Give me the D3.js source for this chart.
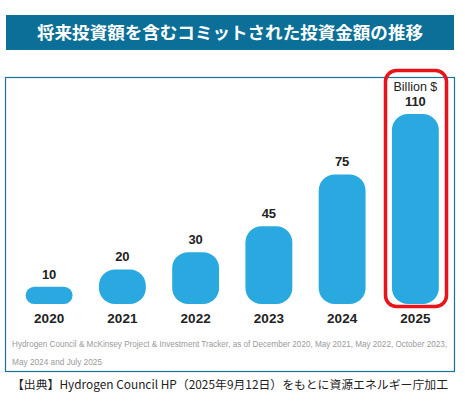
<!DOCTYPE html>
<html>
<head>
<meta charset="utf-8">
<script src="https://cdn.jsdelivr.net/npm/d3@7"></script>
<style>
  body { margin: 0; background: #fff; }
  svg { display: block; }
</style>
</head>
<body>
<div id="chart"></div>
<script>
// data
const years = ["2020", "2021", "2022", "2023", "2024", "2025"];
const values = [10, 20, 30, 45, 75, 110];
const title = "将来投資額を含むコミットされた投資金額の推移";
const unitLabel = "Billion $";
const noteLines = [
    "Hydrogen Council & McKinsey Project & Investment Tracker, as of December 2020, May 2021, May 2022, October 2023,",
    "May 2024 and July 2025"
];
const sourceText = "【出典】Hydrogen Council HP（2025年9月12日）をもとに資源エネルギー庁加工";

const width = 465, height = 402;
const jpFont = "'Noto Sans CJK JP', 'Noto Sans', sans-serif";
const latinFont = "'Liberation Sans', 'DejaVu Sans', sans-serif";

const svg = d3.select("#chart").append("svg")
    .attr("width", width)
    .attr("height", height);

// header band
svg.append("rect")
    .attr("x", 6).attr("y", 15)
    .attr("width", 448).attr("height", 35)
    .attr("fill", "#0b6f97");

svg.append("text")
    .attr("x", 230).attr("y", 39)
    .attr("text-anchor", "middle")
    .attr("fill", "#fff")
    .attr("font-family", jpFont)
    .attr("font-weight", "bold")
    .attr("font-size", 17)
    .attr("textLength", 386)
    .attr("lengthAdjust", "spacingAndGlyphs")
    .text(title);

// chart frame
svg.append("rect")
    .attr("x", 5.5).attr("y", 77.5)
    .attr("width", 449).attr("height", 294)
    .attr("fill", "none")
    .attr("stroke", "#1a7199")
    .attr("stroke-width", 1.2);

// scales
const x = d3.scaleBand()
    .domain(years)
    .range([12.5, 452])
    .paddingInner(0.36)
    .paddingOuter(0.18);

const y = d3.scaleLinear()
    .domain([0, 110])
    .range([304, 114]);

// bars
svg.selectAll(".bar")
    .data(values)
    .enter()
    .append("rect")
    .attr("class", "bar")
    .attr("x", (d, i) => x(years[i]))
    .attr("y", d => y(d))
    .attr("width", x.bandwidth())
    .attr("height", d => y(0) - y(d))
    .attr("rx", d => Math.min(16, (y(0) - y(d)) / 2))
    .attr("fill", "#2aa9e0");

// value labels
svg.selectAll(".val")
    .data(values)
    .enter()
    .append("text")
    .attr("class", "val")
    .attr("x", (d, i) => x(years[i]) + x.bandwidth() / 2)
    .attr("y", d => y(d) - 8)
    .attr("text-anchor", "middle")
    .attr("fill", "#222")
    .attr("font-family", latinFont)
    .attr("font-weight", "bold")
    .attr("font-size", 13)
    .text(d => d);

// unit label above the last bar
svg.append("text")
    .attr("x", x(years[years.length - 1]) + x.bandwidth() / 2)
    .attr("y", 91)
    .attr("text-anchor", "middle")
    .attr("fill", "#222")
    .attr("font-family", latinFont)
    .attr("font-size", 12.5)
    .text(unitLabel);

// year axis
const xAxis = svg.append("g")
    .attr("transform", "translate(0,304)")
    .call(d3.axisBottom(x).tickSize(0).tickPadding(9));
xAxis.select(".domain").remove();
xAxis.selectAll("text")
    .attr("fill", "#222")
    .attr("font-family", latinFont)
    .attr("font-weight", "bold")
    .attr("font-size", 13.5);

// highlight box on 2025
svg.append("rect")
    .attr("x", 385.5).attr("y", 70.5)
    .attr("width", 61).attr("height", 236)
    .attr("rx", 11)
    .attr("fill", "none")
    .attr("stroke", "#e8141b")
    .attr("stroke-width", 3.5);

// footnote inside frame
svg.selectAll(".note")
    .data(noteLines)
    .enter()
    .append("text")
    .attr("class", "note")
    .attr("x", 12)
    .attr("y", (d, i) => 347 + i * 18)
    .attr("fill", "#9a9a9a")
    .attr("font-family", latinFont)
    .attr("font-size", 8.3)
    .attr("textLength", (d, i) => i === 0 ? 435 : 90)
    .attr("lengthAdjust", "spacingAndGlyphs")
    .text(d => d);

// source line
svg.append("text")
    .attr("x", 12).attr("y", 389)
    .attr("fill", "#222")
    .attr("font-family", jpFont)
    .attr("font-size", 11.9)
    .attr("textLength", 436)
    .attr("lengthAdjust", "spacingAndGlyphs")
    .text(sourceText);
</script>
</body>
</html>
